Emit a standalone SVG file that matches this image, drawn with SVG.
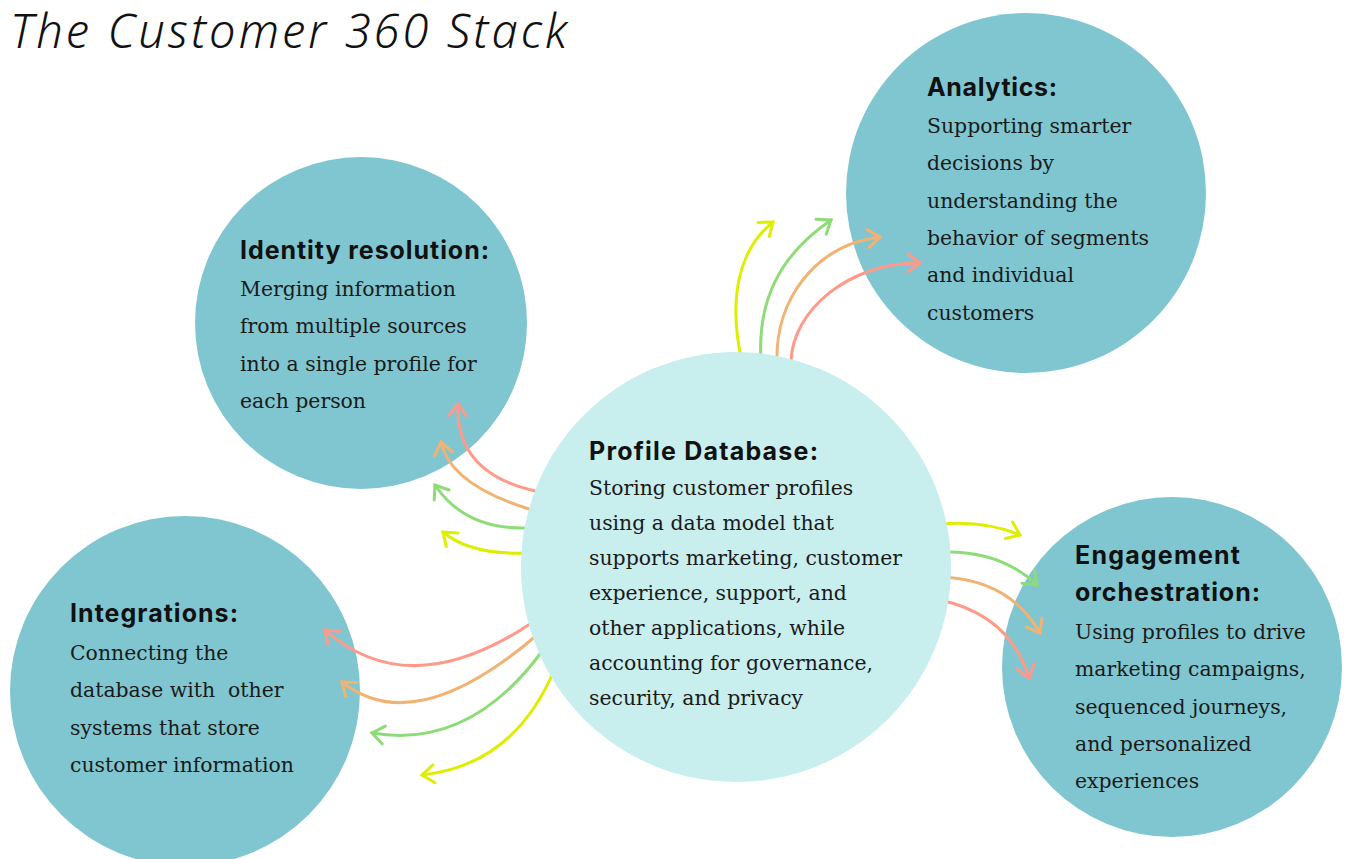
<svg xmlns="http://www.w3.org/2000/svg" width="1345" height="859" viewBox="0 0 1345 859">
  <style>
    .title { font-family: "Noto Sans", Lato, sans-serif; font-style: italic; font-weight: 300; font-size: 47px; fill: #111; }
    .head { font-family: Inter, "Noto Sans", sans-serif; font-weight: 700; font-size: 25px; fill: #111; }
    .body { font-family: "DejaVu Serif", "Liberation Serif", serif; font-size: 20.4px; fill: #1a1a1a; }
    .outer { fill: #80C6D0; }
    .core { fill: #C8EEEE; }
    .arc { fill: none; stroke-width: 3; stroke-linecap: round; }
    .y { stroke: #DDEE00; }
    .g { stroke: #8EDC77; }
    .o { stroke: #F2B272; }
    .r { stroke: #FF9A8A; }
    .tip { fill: none; stroke-width: 3; stroke-linecap: round; }
  </style>
  <defs>
    <marker id="hy" markerUnits="userSpaceOnUse" orient="auto" refX="0" refY="0" markerWidth="30" markerHeight="30" overflow="visible">
      <path class="tip" d="M-12,-9 L0,0 L-12,9" stroke="#DDEE00"/>
    </marker>
    <marker id="hg" markerUnits="userSpaceOnUse" orient="auto" refX="0" refY="0" markerWidth="30" markerHeight="30" overflow="visible">
      <path class="tip" d="M-12,-9 L0,0 L-12,9" stroke="#8EDC77"/>
    </marker>
    <marker id="ho" markerUnits="userSpaceOnUse" orient="auto" refX="0" refY="0" markerWidth="30" markerHeight="30" overflow="visible">
      <path class="tip" d="M-12,-9 L0,0 L-12,9" stroke="#F2B272"/>
    </marker>
    <marker id="hr" markerUnits="userSpaceOnUse" orient="auto" refX="0" refY="0" markerWidth="30" markerHeight="30" overflow="visible">
      <path class="tip" d="M-12,-9 L0,0 L-12,9" stroke="#FF9A8A"/>
    </marker>
  </defs>

  <rect width="1345" height="859" fill="#ffffff"/>

  <text class="title" x="10" y="48" textLength="557" lengthAdjust="spacing">The Customer 360 Stack</text>

  <!-- outer circles -->
  <g id="identity-resolution">
    <circle class="outer" cx="361" cy="323" r="166"/>
  </g>
  <g id="analytics">
    <circle class="outer" cx="1026" cy="193" r="180"/>
  </g>
  <g id="engagement-orchestration">
    <circle class="outer" cx="1172" cy="667" r="170"/>
  </g>
  <g id="integrations">
    <circle class="outer" cx="185" cy="691" r="175"/>
  </g>

  <!-- connectors fanning out from the profile database -->
  <g id="connectors">
    <!-- to identity resolution -->
    <path class="arc r" d="M540,492 Q455,475 458,404" marker-end="url(#hr)"/>
    <path class="arc o" d="M532,510 Q450,485 441,442" marker-end="url(#ho)"/>
    <path class="arc g" d="M528,528 Q465,530 435,485" marker-end="url(#hg)"/>
    <path class="arc y" d="M527,553 Q470,555 443,532" marker-end="url(#hy)"/>
    <!-- to analytics -->
    <path class="arc y" d="M742,362 C728,300 738,250 773,222" marker-end="url(#hy)"/>
    <path class="arc g" d="M761,362 C757,300 780,255 831,220" marker-end="url(#hg)"/>
    <path class="arc o" d="M777,362 C775,300 815,245 880,237" marker-end="url(#ho)"/>
    <path class="arc r" d="M791,362 C792,310 850,262 920,263" marker-end="url(#hr)"/>
    <!-- to engagement orchestration -->
    <path class="arc y" d="M940,524 Q985,520 1020,535" marker-end="url(#hy)"/>
    <path class="arc g" d="M942,552 Q1000,550 1037,585" marker-end="url(#hg)"/>
    <path class="arc o" d="M942,577 Q1010,580 1040,633" marker-end="url(#ho)"/>
    <path class="arc r" d="M940,600 Q1010,615 1029,678" marker-end="url(#hr)"/>
    <!-- to integrations -->
    <path class="arc r" d="M533,622 Q410,705 325,630" marker-end="url(#hr)"/>
    <path class="arc o" d="M537,635 Q415,740 342,682" marker-end="url(#ho)"/>
    <path class="arc g" d="M543,650 Q470,750 372,733" marker-end="url(#hg)"/>
    <path class="arc y" d="M555,668 Q515,765 422,775" marker-end="url(#hy)"/>
  </g>

  <!-- central node -->
  <g id="profile-database">
    <circle class="core" cx="736" cy="567" r="215"/>
    <text class="head" x="589" y="460" textLength="229" lengthAdjust="spacing">Profile Database:</text>
    <text class="body" x="589" y="495">Storing customer profiles</text>
    <text class="body" x="589" y="530">using a data model that</text>
    <text class="body" x="589" y="565">supports marketing, customer</text>
    <text class="body" x="589" y="600">experience, support, and</text>
    <text class="body" x="589" y="635">other applications, while</text>
    <text class="body" x="589" y="670">accounting for governance,</text>
    <text class="body" x="589" y="705">security, and privacy</text>
  </g>

  <!-- labels of outer nodes -->
  <g id="identity-resolution-text">
    <text class="head" x="240" y="259" textLength="249" lengthAdjust="spacing">Identity resolution:</text>
    <text class="body" x="240" y="296">Merging information</text>
    <text class="body" x="240" y="333">from multiple sources</text>
    <text class="body" x="240" y="371">into a single profile for</text>
    <text class="body" x="240" y="408">each person</text>
  </g>
  <g id="analytics-text">
    <text class="head" x="927" y="96" textLength="130" lengthAdjust="spacing">Analytics:</text>
    <text class="body" x="927" y="133">Supporting smarter</text>
    <text class="body" x="927" y="170">decisions by</text>
    <text class="body" x="927" y="208">understanding the</text>
    <text class="body" x="927" y="245">behavior of segments</text>
    <text class="body" x="927" y="282">and individual</text>
    <text class="body" x="927" y="320">customers</text>
  </g>
  <g id="engagement-orchestration-text">
    <text class="head" x="1075" y="564" textLength="165" lengthAdjust="spacing">Engagement</text>
    <text class="head" x="1075" y="601" textLength="185" lengthAdjust="spacing">orchestration:</text>
    <text class="body" x="1075" y="639">Using profiles to drive</text>
    <text class="body" x="1075" y="676">marketing campaigns,</text>
    <text class="body" x="1075" y="714">sequenced journeys,</text>
    <text class="body" x="1075" y="751">and personalized</text>
    <text class="body" x="1075" y="788">experiences</text>
  </g>
  <g id="integrations-text">
    <text class="head" x="70" y="622" textLength="168" lengthAdjust="spacing">Integrations:</text>
    <text class="body" x="70" y="660">Connecting the</text>
    <text class="body" x="70" y="697">database with&#160; other</text>
    <text class="body" x="70" y="735">systems that store</text>
    <text class="body" x="70" y="772">customer information</text>
  </g>
</svg>
